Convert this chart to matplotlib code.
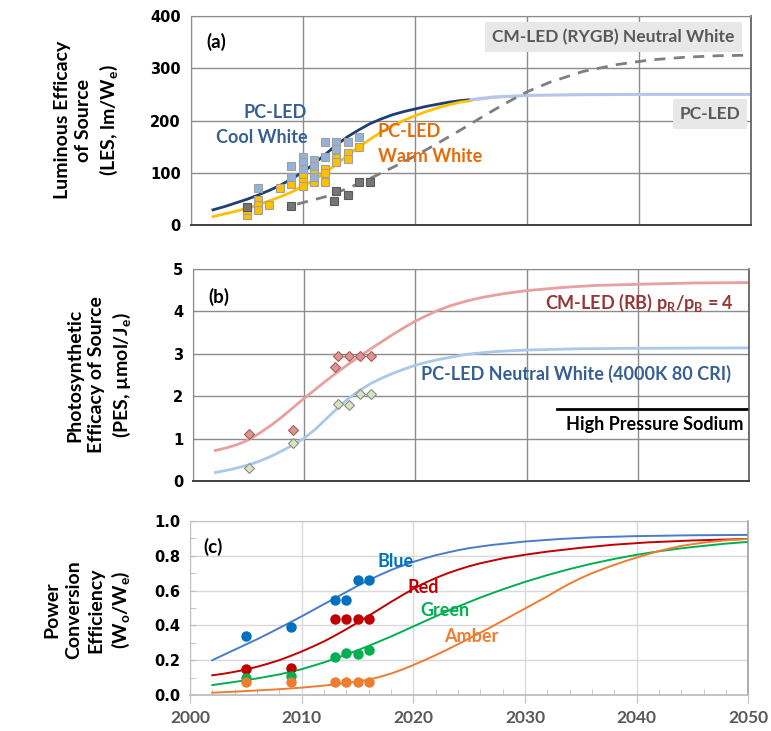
import matplotlib
matplotlib.use("Agg")
import matplotlib.pyplot as plt
from matplotlib.ticker import MultipleLocator

plt.rcParams['font.family'] = ['Lato', 'DejaVu Sans']
plt.rcParams['font.weight'] = 'bold'
plt.rcParams['mathtext.default'] = 'regular'

# ---------------- panel (a): luminous efficacy of source ----------------
cool_yr = [2002, 2003, 2004, 2005, 2006, 2007, 2008, 2009, 2010, 2011, 2012, 2013, 2014, 2015, 2016,
           2017, 2018, 2019, 2020, 2021, 2022, 2023, 2024, 2025]
cool_les = [29, 35, 42, 49, 57, 66, 76, 88, 101, 117, 135, 153, 169, 182, 194,
            203, 211, 217, 222, 227, 231, 235, 238, 240]
warm_yr = [2002, 2003, 2004, 2005, 2006, 2007, 2008, 2009, 2010, 2011, 2012, 2013, 2014, 2015, 2016,
           2017, 2018, 2019, 2020, 2021, 2022, 2023, 2024, 2025]
warm_les = [16, 21, 26, 32, 38, 46, 54, 63, 74, 86, 100, 116, 133, 149, 164,
            178, 190, 200, 209, 217, 224, 230, 235, 238]
pc_yr = [2025, 2027, 2030, 2035, 2040, 2050]
pc_les = [240, 245, 248, 249.5, 250, 250]
pink_yr = [2025, 2027, 2030]
pink_les = [238, 243, 247]
cm_yr = [2009.5, 2012, 2014, 2016, 2018, 2020, 2022, 2024, 2026, 2028, 2030, 2032, 2035, 2038, 2041, 2044, 2047, 2050]
cm_les = [40, 54, 70, 89, 110, 132, 156, 181, 207, 232, 255, 273, 294, 307, 316, 321, 324, 325]

cool_pts_yr = [2006, 2009, 2009, 2010, 2010, 2010, 2011, 2011, 2011, 2012, 2012, 2013, 2013, 2014, 2015]
cool_pts = [70, 113, 91, 131, 121, 107, 124, 113, 92, 159, 131, 159, 146, 159, 168]
warm_pts_yr = [2005, 2005, 2006, 2006, 2006, 2007, 2008, 2009, 2010, 2010, 2010, 2011, 2011,
               2012, 2012, 2012, 2013, 2013, 2014, 2014, 2015]
warm_pts = [20, 28, 48, 39, 29, 39, 70, 79, 94, 83, 74, 99, 83, 108, 99, 83, 128, 120, 137, 127, 149]
cm_pts_yr = [2005, 2009, 2012.8, 2013, 2014, 2015, 2016]
cm_pts = [34, 36, 45, 66, 58, 83, 83]

# ---------------- panel (b): photosynthetic efficacy of source ----------------
rb_yr = [2002, 2003, 2004, 2005, 2006, 2007, 2008, 2009, 2010, 2011, 2012, 2013, 2014, 2015, 2016,
         2017, 2018, 2019, 2020, 2021, 2022, 2023, 2024, 2025, 2026, 2028, 2030, 2033, 2036, 2040, 2045, 2050]
rb_pes = [0.72, 0.78, 0.86, 0.97, 1.13, 1.31, 1.51, 1.73, 1.95, 2.16, 2.37, 2.57, 2.76, 2.94, 3.12,
          3.29, 3.46, 3.62, 3.77, 3.90, 4.02, 4.12, 4.20, 4.27, 4.33, 4.42, 4.49, 4.56, 4.61, 4.64, 4.67, 4.68]
nw_yr = [2002, 2003, 2004, 2005, 2006, 2007, 2008, 2009, 2010, 2011, 2012, 2013, 2014, 2015, 2016,
         2017, 2018, 2019, 2020, 2021, 2022, 2023, 2024, 2025, 2027, 2030, 2035, 2040, 2050]
nw_pes = [0.20, 0.25, 0.31, 0.38, 0.47, 0.58, 0.71, 0.85, 1.01, 1.22, 1.47, 1.72, 1.95, 2.14, 2.30,
          2.43, 2.54, 2.64, 2.73, 2.80, 2.86, 2.91, 2.96, 3.00, 3.05, 3.09, 3.12, 3.13, 3.14]
rb_pts_yr = [2005, 2009, 2012.8, 2013, 2014, 2015, 2016]
rb_pts = [1.12, 1.20, 2.70, 2.95, 2.95, 2.95, 2.95]
nw_pts_yr = [2005, 2009, 2013, 2014, 2015, 2016]
nw_pts = [0.30, 0.90, 1.81, 1.79, 2.06, 2.06]
hps_yr = [2032.7, 2050]
hps_pes = [1.69, 1.69]

# ---------------- panel (c): power conversion efficiency ----------------
blue_yr = [2002, 2003, 2004, 2005, 2006, 2007, 2008, 2009, 2010, 2011, 2012, 2013, 2014, 2015, 2016,
           2017, 2018, 2019, 2020, 2021, 2022, 2023, 2024, 2025, 2027, 2030, 2033, 2036, 2040, 2045, 2050]
blue_pce = [0.20, 0.23, 0.26, 0.29, 0.32, 0.352, 0.385, 0.418, 0.452, 0.487, 0.522, 0.557, 0.592, 0.627, 0.66,
            0.69, 0.718, 0.743, 0.765, 0.785, 0.803, 0.818, 0.832, 0.844, 0.862, 0.882, 0.896, 0.906, 0.913,
            0.918, 0.92]
red_yr = [2002, 2003, 2004, 2005, 2006, 2007, 2008, 2009, 2010, 2011, 2012, 2013, 2014, 2015, 2016,
          2017, 2018, 2019, 2020, 2021, 2022, 2023, 2024, 2025, 2026, 2028, 2030, 2032, 2035, 2038, 2041,
          2045, 2050]
red_pce = [0.113, 0.122, 0.133, 0.146, 0.162, 0.18, 0.2, 0.224, 0.25, 0.278, 0.308, 0.342, 0.378, 0.416, 0.455,
           0.495, 0.535, 0.573, 0.61, 0.643, 0.672, 0.698, 0.72, 0.74, 0.757, 0.785, 0.806, 0.824, 0.846, 0.864,
           0.877, 0.888, 0.897]
green_yr = [2002, 2004, 2006, 2008, 2010, 2012, 2014, 2016, 2018, 2020, 2022, 2024, 2026, 2028, 2030,
            2032, 2034, 2036, 2038, 2040, 2042, 2044, 2046, 2048, 2050]
green_pce = [0.057, 0.075, 0.095, 0.118, 0.148, 0.187, 0.232, 0.282, 0.336, 0.394, 0.452, 0.508, 0.56, 0.607,
             0.65, 0.689, 0.724, 0.755, 0.782, 0.806, 0.826, 0.843, 0.857, 0.87, 0.88]
amber_yr = [2002, 2004, 2006, 2008, 2010, 2012, 2014, 2016, 2017, 2018, 2019, 2020, 2021, 2022, 2023,
            2024, 2025, 2026, 2027, 2028, 2029, 2030, 2031, 2032, 2033, 2034, 2035, 2036, 2037, 2038,
            2039, 2040, 2042, 2044, 2046, 2048, 2050]
amber_pce = [0.013, 0.019, 0.026, 0.033, 0.042, 0.054, 0.068, 0.088, 0.104, 0.123, 0.146, 0.172, 0.2, 0.229,
             0.26, 0.292, 0.325, 0.358, 0.392, 0.427, 0.462, 0.497, 0.532, 0.567, 0.605, 0.64, 0.672, 0.70,
             0.725, 0.748, 0.77, 0.79, 0.828, 0.857, 0.876, 0.889, 0.897]

pts_yr = [2005, 2009, 2013, 2014, 2015, 2016]
blue_pts = [0.339, 0.39, 0.546, 0.546, 0.659, 0.659]
red_pts = [0.148, 0.157, 0.437, 0.437, 0.437, 0.437]
green_pts = [0.10, 0.109, 0.218, 0.241, 0.236, 0.259]
amber_pts = [0.077, 0.077, 0.077, 0.077, 0.077, 0.077]

year_ticks = [2000, 2010, 2020, 2030, 2040, 2050]

fig = plt.figure(figsize=(7.71, 7.31), dpi=100)
ax1 = fig.add_axes([0.2471, 0.6922, 0.7276, 0.2859])
ax2 = fig.add_axes([0.2503, 0.3420, 0.7211, 0.2900])
ax3 = fig.add_axes([0.2464, 0.0493, 0.7244, 0.2380])

tick_font = dict(family='DejaVu Sans', weight='bold', size=10.5)

for ax in (ax1, ax2):
    ax.set_xlim(2000, 2050)
    ax.set_xticks(year_ticks)
    ax.set_xticklabels([])
    ax.grid(True, color='#8c8c8c', lw=1)
    ax.set_axisbelow(True)
    ax.tick_params(length=0, pad=7)
    for s in ax.spines.values():
        s.set_color('#8c8c8c')
    ax.spines['bottom'].set_color('#404040')
    ax.spines['bottom'].set_linewidth(1.4)
    ax.spines['right'].set_color('#595959')
    ax.spines['right'].set_linewidth(1.2)

# panel (a)
ax1.set_ylim(0, 400)
ax1.set_yticks([0, 100, 200, 300, 400])
ax1.set_yticklabels(['0', '100', '200', '300', '400'], **tick_font)
ax1.plot(cool_yr, cool_les, color='#1F3F73', lw=2)
ax1.plot(warm_yr, warm_les, color='#FFC000', lw=2)
ax1.plot(pink_yr, pink_les, color='#E6A8A6', lw=1)
ax1.plot(pc_yr, pc_les, color='#B4C7E7', lw=2.2)
ax1.plot(cm_yr, cm_les, color='#7F7F7F', lw=2, dashes=(4, 3))
ax1.plot(warm_pts_yr, warm_pts, 's', ms=6, mfc='#FFC000', mec='#A0A0A0', mew=0.8)
ax1.plot(cool_pts_yr, cool_pts, 's', ms=6, mfc='#95B3D7', mec='#A0A0A0', mew=0.8)
ax1.plot(cm_pts_yr, cm_pts, 's', ms=6, mfc='#767676', mec='#595959', mew=0.8)
ax1.text(2002.3, 351, '(a)', ha='center', va='center', fontsize=13.5, color='black')
ax1.text(2010.4, 216, 'PC-LED', ha='right', va='center', fontsize=13, color='#376092')
ax1.text(2010.4, 168, 'Cool White', ha='right', va='center', fontsize=13, color='#376092')
ax1.text(2016.7, 179, 'PC-LED', ha='left', va='center', fontsize=13, color='#E46C0A')
ax1.text(2016.7, 131, 'Warm White', ha='left', va='center', fontsize=13, color='#E46C0A')
ax1.text(2037.7, 360, 'CM-LED (RYGB) Neutral White', ha='center', va='center', fontsize=12.5,
         color='#595959', bbox=dict(facecolor='#E8E8E8', edgecolor='none', pad=5))
ax1.text(2046.3, 212, 'PC-LED', ha='center', va='center', fontsize=12.5,
         color='#595959', bbox=dict(facecolor='#E8E8E8', edgecolor='none', pad=5))

# panel (b)
ax2.set_ylim(0, 5)
ax2.set_yticks([0, 1, 2, 3, 4, 5])
ax2.set_yticklabels(['0', '1', '2', '3', '4', '5'], **tick_font)
ax2.plot(rb_yr, rb_pes, color='#E6A09E', lw=2)
ax2.plot(nw_yr, nw_pes, color='#A9C8EA', lw=2)
ax2.plot(hps_yr, hps_pes, color='black', lw=2)
ax2.plot(rb_pts_yr, rb_pts, 'D', ms=5.5, mfc='#D99694', mec='#A65E5C', mew=0.8)
ax2.plot(nw_pts_yr, nw_pts, 'D', ms=5.5, mfc='#D7E4BD', mec='#8C8C8C', mew=0.8)
ax2.text(2002.3, 4.35, '(b)', ha='center', va='center', fontsize=13.5, color='black')
ax2.text(2048.65, 4.2, 'CM-LED (RB) p$_R$/p$_B$ = 4', ha='right', va='center', fontsize=13, color='#953735')
ax2.text(2048.4, 2.52, 'PC-LED Neutral White (4000K 80 CRI)', ha='right', va='center', fontsize=13,
         color='#376092')
ax2.text(2049.5, 1.34, 'High Pressure Sodium', ha='right', va='center', fontsize=13, color='black')

# panel (c)
ax3.set_xlim(2000, 2050)
ax3.set_ylim(0, 1.0)
ax3.set_xticks(year_ticks)
ax3.set_xticklabels([str(y) for y in year_ticks], fontsize=12.5, color='#595959')
ax3.xaxis.set_minor_locator(MultipleLocator(2))
ax3.set_yticks([0, 0.2, 0.4, 0.6, 0.8, 1.0])
ax3.set_yticklabels(['0.0', '0.2', '0.4', '0.6', '0.8', '1.0'], **tick_font)
ax3.yaxis.set_minor_locator(MultipleLocator(0.1))
ax3.grid(True, which='major', color='#D9D9D9', lw=1)
ax3.set_axisbelow(True)
ax3.tick_params(axis='x', which='major', direction='out', length=6, color='#BFBFBF', pad=5)
ax3.tick_params(axis='x', which='minor', direction='in', length=4, color='#BFBFBF')
ax3.tick_params(axis='y', which='major', direction='in', length=4, color='#BFBFBF', pad=7)
ax3.tick_params(axis='y', which='minor', direction='in', length=4, color='#BFBFBF')
for s in ax3.spines.values():
    s.set_color('#BFBFBF')
ax3.spines['bottom'].set_linewidth(1.3)
ax3.spines['right'].set_color('#A0A0A0')
ax3.spines['right'].set_linewidth(1.2)
ax3.plot(blue_yr, blue_pce, color='#4A7CC8', lw=1.4)
ax3.plot(red_yr, red_pce, color='#C00000', lw=1.4)
ax3.plot(green_yr, green_pce, color='#00B050', lw=1.4)
ax3.plot(amber_yr, amber_pce, color='#ED7D31', lw=1.4)
ax3.plot(pts_yr, blue_pts, 'o', ms=6.5, color='#0070C0')
ax3.plot(pts_yr, red_pts, 'o', ms=6.5, color='#C00000')
ax3.plot(pts_yr, green_pts, 'o', ms=6.5, color='#00B050')
ax3.plot(pts_yr, amber_pts, 'o', ms=6.5, color='#ED7D31')
ax3.text(2002.1, 0.85, '(c)', ha='center', va='center', fontsize=13.5, color='black')
ax3.text(2018.4, 0.766, 'Blue', ha='center', va='center', fontsize=13, color='#0070C0')
ax3.text(2020.9, 0.62, 'Red', ha='center', va='center', fontsize=13, color='#C00000')
ax3.text(2022.8, 0.483, 'Green', ha='center', va='center', fontsize=13, color='#00B050')
ax3.text(2025.2, 0.335, 'Amber', ha='center', va='center', fontsize=13, color='#ED7D31')

# y-axis titles
lab = dict(rotation=90, ha='center', va='center', multialignment='center', fontsize=14,
           linespacing=1.35, color='black')
fig.text(87 / 771, 1 - 120 / 731, 'Luminous Efficacy\nof Source\n(LES, lm/W$_e$)', **lab)
fig.text(100 / 771, 1 - 375 / 731, 'Photosynthetic\nEfficacy of Source\n(PES, µmol/J$_e$)', **lab)
fig.text(87.5 / 771, 1 - 610 / 731, 'Power\nConversion\nEfficiency\n(W$_o$/W$_e$)', **lab)

fig.savefig('out.png', dpi=100)
